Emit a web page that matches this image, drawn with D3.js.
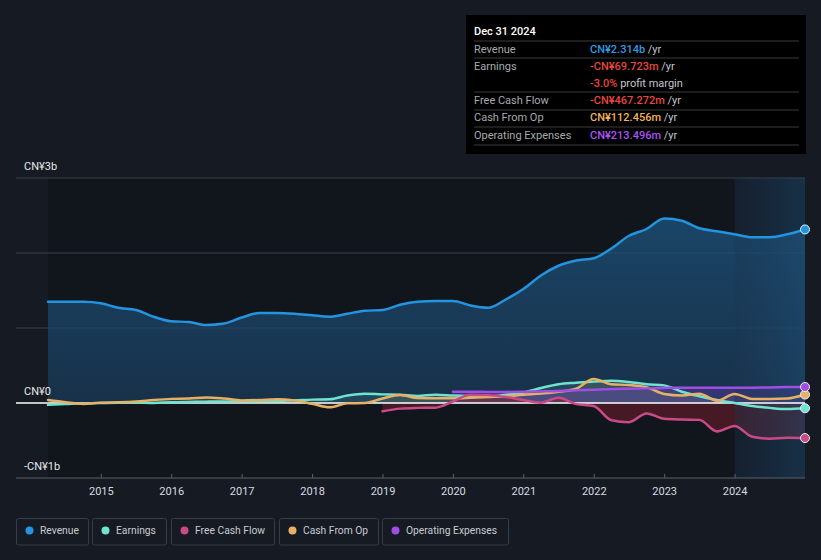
<!DOCTYPE html>
<html>
<head>
<meta charset="utf-8">
<script src="https://cdn.jsdelivr.net/npm/d3@7"></script>
<style>
  body { margin: 0; background: #151a23; font-family: Roboto, "Noto Sans", sans-serif; }
  svg { display: block; }
</style>
</head>
<body>
<svg id="chart" width="821" height="560"></svg>
<script>
// quarter ends as fractional years, values in CN¥ millions
const quarters = d3.range(44).map(i => 2014.25 + i * 0.25);

const revenue = [1350, 1350, 1350, 1330, 1270, 1240, 1150, 1090, 1080, 1040, 1060, 1140,
  1200, 1200, 1190, 1170, 1150, 1190, 1230, 1240, 1310, 1350, 1360, 1360,
  1300, 1270, 1380, 1520, 1700, 1830, 1900, 1930, 2060, 2230, 2320, 2460,
  2430, 2330, 2290, 2250, 2210, 2210, 2250, 2314];

const earnings = [-25, -15, -5, 0, 2, 5, 0, 10, 15, 18, 20, 22,
  25, 30, 35, 45, 50, 100, 125, 115, 110, 95, 110, 100,
  95, 85, 110, 140, 200, 250, 270, 285, 298, 280, 250, 235,
  150, 90, 40, 0, -40, -65, -80, -69.7];

const freeCashFlow = [null, null, null, null, null, null, null, null, null, null, null, null,
  null, null, null, null, null, null, null, -110, -75, -65, -62, 20,
  110, 105, 80, 40, 5, 70, -15, -40, -230, -255, -140, -210,
  -220, -225, -380, -305, -450, -475, -462, -467.3];

const cashFromOp = [40, 10, -12, 5, 10, 20, 40, 55, 60, 75, 60, 35,
  40, 50, 35, -10, -58, -5, 0, 60, 107, 65, 62, 62,
  70, 80, 90, 110, 125, 150, 190, 320, 250, 240, 210, 120,
  100, 125, 31, 120, 55, 55, 60, 112.5];

const opExpenses = [null, null, null, null, null, null, null, null, null, null, null, null,
  null, null, null, null, null, null, null, null, null, null, null, 150,
  150, 148, 148, 150, 155, 160, 170, 178, 185, 190, 195, 200,
  205, 205, 205, 205, 205, 208, 212, 213.5];

const yearTicks = [2015, 2016, 2017, 2018, 2019, 2020, 2021, 2022, 2023, 2024];
const yLabels = [{ v: 3000, t: "CN¥3b" }, { v: 0, t: "CN¥0" }, { v: -1000, t: "-CN¥1b" }];

const seriesList = [
  { name: "Revenue", values: revenue, color: "#2394df" },
  { name: "Earnings", values: earnings, color: "#6fe3d0" },
  { name: "Free Cash Flow", values: freeCashFlow, color: "#c94a87" },
  { name: "Cash From Op", values: cashFromOp, color: "#e8b065" },
  { name: "Operating Expenses", values: opExpenses, color: "#a04ee6" }
];

const tipRows = [
  { label: "Revenue", value: "CN¥2.314b", color: "#2e9be6", unit: " /yr" },
  { label: "Earnings", value: "-CN¥69.723m", color: "#e8473d", unit: " /yr" },
  { label: "", value: "-3.0%", color: "#e8473d", unit: " profit margin" },
  { label: "Free Cash Flow", value: "-CN¥467.272m", color: "#e8473d", unit: " /yr" },
  { label: "Cash From Op", value: "CN¥112.456m", color: "#f0b35a", unit: " /yr" },
  { label: "Operating Expenses", value: "CN¥213.496m", color: "#a855f7", unit: " /yr" }
];

const svg = d3.select("#chart");
const plotLeft = 16, plotRight = 805, plotTop = 178, plotBottom = 478;

const x = d3.scaleLinear().domain([2014.25, 2025]).range([48, plotRight]);
const y = d3.scaleLinear().domain([-1000, 3000]).range([plotBottom, plotTop]);

const defs = svg.append("defs");
const revGrad = defs.append("linearGradient").attr("id", "revGrad")
  .attr("x1", 0).attr("y1", 0).attr("x2", 0).attr("y2", 1);
revGrad.append("stop").attr("offset", "0%").attr("stop-color", "#1d5580").attr("stop-opacity", 0.75);
revGrad.append("stop").attr("offset", "100%").attr("stop-color", "#1a3a58").attr("stop-opacity", 0.75);

const hiGrad = defs.append("linearGradient").attr("id", "hiGrad")
  .attr("x1", 0).attr("y1", 0).attr("x2", 1).attr("y2", 0);
hiGrad.append("stop").attr("offset", "0%").attr("stop-color", "#1c3550").attr("stop-opacity", 0.35);
hiGrad.append("stop").attr("offset", "100%").attr("stop-color", "#1e4d74").attr("stop-opacity", 0.5);

// plot background (darker than page)
svg.append("rect")
  .attr("x", x(2014.25)).attr("y", plotTop)
  .attr("width", plotRight - x(2014.25)).attr("height", plotBottom - plotTop)
  .attr("fill", "#11151c");

// gridlines
svg.append("g").selectAll("line")
  .data([3000, 2000, 1000])
  .enter().append("line")
  .attr("x1", plotLeft).attr("x2", plotRight)
  .attr("y1", d => y(d)).attr("y2", d => y(d))
  .attr("stroke", "#3a414c").attr("stroke-width", 1);

const line = d3.line()
  .defined(d => d[1] != null)
  .x(d => x(d[0])).y(d => y(d[1]))
  .curve(d3.curveMonotoneX);

const area = d3.area()
  .defined(d => d[1] != null)
  .x(d => x(d[0])).y0(y(0)).y1(d => y(d[1]))
  .curve(d3.curveMonotoneX);

function pairs(values) {
  return quarters.map((q, i) => [q, values[i]]);
}

// revenue fill
svg.append("path")
  .attr("d", area(pairs(revenue)))
  .attr("fill", "url(#revGrad)");

// lighter fills for the other series
const fills = [
  { values: earnings, color: "#6fe3d0", op: 0.12 },
  { values: cashFromOp, color: "#e8b065", op: 0.12 },
  { values: opExpenses, color: "#6a3cc0", op: 0.35 },
  { values: freeCashFlow, color: "#7a1f2e", op: 0.5 }
];
fills.forEach(f => {
  svg.append("path")
    .attr("d", area(pairs(f.values)))
    .attr("fill", f.color).attr("fill-opacity", f.op);
});

// last-twelve-months highlight
svg.append("rect")
  .attr("x", x(2024)).attr("y", plotTop)
  .attr("width", plotRight - x(2024)).attr("height", plotBottom - plotTop)
  .attr("fill", "url(#hiGrad)");

// zero line
svg.append("line")
  .attr("x1", plotLeft).attr("x2", plotRight)
  .attr("y1", y(0)).attr("y2", y(0))
  .attr("stroke", "#ffffff").attr("stroke-width", 1.5);

// bottom axis
const xAxis = d3.axisBottom(x).tickValues(yearTicks).tickFormat(d3.format("d"))
  .tickSize(-4).tickPadding(9);
const axisG = svg.append("g").attr("transform", `translate(0,${plotBottom})`).call(xAxis);
axisG.select(".domain").remove();
axisG.selectAll(".tick line").attr("stroke", "#5a616c");
axisG.selectAll("text").attr("fill", "#d8dbe0").attr("font-size", 11)
  .attr("font-family", "Roboto, sans-serif");
svg.append("line")
  .attr("x1", plotLeft).attr("x2", plotRight)
  .attr("y1", plotBottom).attr("y2", plotBottom)
  .attr("stroke", "#5a616c").attr("stroke-width", 1);

// y labels
svg.append("g").selectAll("text")
  .data(yLabels)
  .enter().append("text")
  .attr("x", 24).attr("y", d => y(d.v) - 8)
  .attr("fill", "#e6e8eb").attr("font-size", 11)
  .text(d => d.t);

// series lines (draw order so revenue and purple stay on top)
[1, 3, 2, 4, 0].forEach(i => {
  const s = seriesList[i];
  svg.append("path")
    .attr("d", line(pairs(s.values)))
    .attr("fill", "none")
    .attr("stroke", s.color).attr("stroke-width", 2.5)
    .attr("stroke-linejoin", "round").attr("stroke-linecap", "round");
});

// end dots
seriesList.forEach(s => {
  svg.append("circle")
    .attr("cx", x(2025)).attr("cy", y(s.values[s.values.length - 1]))
    .attr("r", 4.5)
    .attr("fill", s.color).attr("stroke", "#e8eef5").attr("stroke-width", 1);
});

// tooltip box
const tip = svg.append("g").attr("transform", "translate(466,15)");
tip.append("rect").attr("width", 340).attr("height", 139).attr("fill", "#000");
tip.append("text").attr("x", 8).attr("y", 20)
  .attr("fill", "#fff").attr("font-size", 11).attr("font-weight", 500)
  .text("Dec 31 2024");
const rowY = [34, 51.5, 68.5, 85, 102.5, 120];
const sepY = [26, 43, 77, 95, 112, 130];
tip.selectAll(".sep").data(sepY).enter().append("line")
  .attr("x1", 8).attr("x2", 333)
  .attr("y1", d => d).attr("y2", d => d)
  .attr("stroke", "#3a3a3a").attr("stroke-width", 1);
tipRows.forEach((r, i) => {
  tip.append("text").attr("x", 8).attr("y", rowY[i]).attr("dy", "0.35em")
    .attr("fill", "#a7a9ad").attr("font-size", 11).text(r.label);
  const t = tip.append("text").attr("x", 124).attr("y", rowY[i]).attr("dy", "0.35em")
    .attr("font-size", 11);
  t.append("tspan").attr("fill", r.color).attr("font-weight", 500).text(r.value);
  t.append("tspan").attr("fill", "#c4c6ca").text(r.unit);
});

// legend
const legendBoxes = [
  { x: 16, w: 72 }, { x: 92, w: 74 }, { x: 171, w: 103 }, { x: 279, w: 99 }, { x: 382, w: 126 }
];
const legend = svg.append("g").attr("transform", "translate(0,518)");
seriesList.forEach((s, i) => {
  const b = legendBoxes[i];
  const g = legend.append("g").attr("transform", `translate(${b.x},0)`);
  g.append("rect").attr("x", 0.5).attr("y", 0.5).attr("width", b.w).attr("height", 26.5)
    .attr("rx", 2).attr("fill", "none").attr("stroke", "#363d48");
  g.append("circle").attr("cx", 13.5).attr("cy", 12.5).attr("r", 4).attr("fill", s.color);
  g.append("text").attr("x", 24).attr("y", 12.5).attr("dy", "0.35em")
    .attr("fill", "#c9ccd1").attr("font-size", 10.3).text(s.name);
});
</script>
</body>
</html>
